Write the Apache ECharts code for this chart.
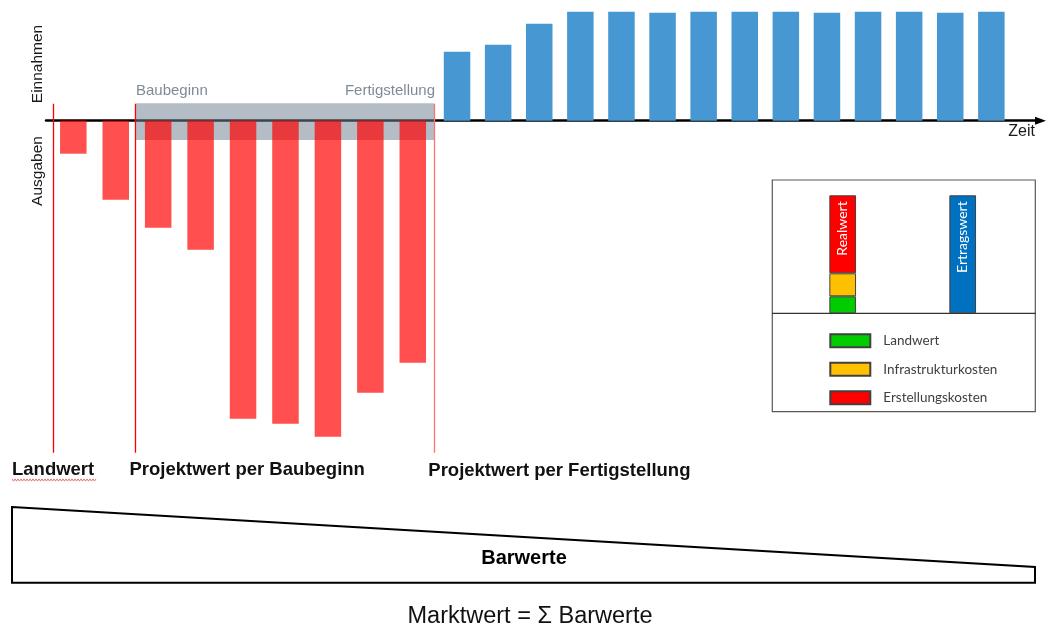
<!DOCTYPE html>
<html><head><meta charset="utf-8">
<script src="https://cdn.jsdelivr.net/npm/echarts@6/dist/echarts.min.js"></script>
<style>html,body{margin:0;padding:0;background:#fff}#c{width:1051px;height:632px}</style>
</head><body><div id="c"></div>
<script>
// ---- Data ----
const ausgabenPerioden = [0, 1, 2, 3, 4, 5, 6, 7, 8];
const ausgaben = [-33, -79, -107, -129, -298, -303, -316, -272, -242];
const einnahmenPerioden = [9, 10, 11, 12, 13, 14, 15, 16, 17, 18, 19, 20, 21, 22];
const einnahmen = [69, 76, 97, 109, 109, 108, 109, 109, 109, 108, 109, 109, 108, 109];
const stichtage = [-0.47, 1.46, 8.5];         // Landwert, Baubeginn, Fertigstellung
const bauphase = [1.48, 8.5];                 // Baubeginn .. Fertigstellung
const stichtagLabels = ['Landwert', 'Projektwert per Baubeginn', 'Projektwert per Fertigstellung'];
const insetKategorien = ['Realwert', 'Ertragswert'];
const landwert = [17, '-'];
const infrastrukturkosten = [23, '-'];
const erstellungskosten = [78, '-'];
const ertragswert = ['-', 118];
const legendNamen = ['Landwert', 'Infrastrukturkosten', 'Erstellungskosten'];

const FONT = '"Liberation Sans", Arial, sans-serif';
const chart = echarts.init(document.getElementById('c'), null, {renderer: 'canvas'});

const hidden = {show: false};
function hAxis(idx, min, max) {
  return {type: 'value', gridIndex: idx, min: min, max: max, axisLine: hidden, axisTick: hidden, axisLabel: hidden, splitLine: hidden};
}

// squiggle (spell-check underline) decoration
const squiggle = [];
for (let k = 0; k <= 56; k++) squiggle.push([12 + k * 1.5, 480 + (k % 2 ? 1.1 : -1.1)]);

const lineColors = ['#ff0000', '#ff0000', '#ff7070'];
const markLineData = stichtage.map((s, i) => [
  {coord: [s, 17], lineStyle: {color: lineColors[i], width: 1.3, type: 'solid'}},
  {coord: [s, -332]}
]);

const option = {
  animation: false,
  backgroundColor: '#ffffff',
  grid: [
    {left: 46, top: 20, width: 994.5, height: 100.7},
    {left: 52.1, top: 80.7, width: 381.9, height: 380},
    {left: 436.5, top: 0.7, width: 575.4, height: 120},
    {left: 782.7, top: 183.3, width: 240, height: 130}
  ],
  xAxis: [
    {type: 'value', gridIndex: 0, min: 0, max: 1, axisTick: hidden, axisLabel: hidden, splitLine: hidden,
     axisLine: {show: true, symbol: ['none', 'triangle'], symbolSize: [8, 11], lineStyle: {color: '#000', width: 2.5}}},
    hAxis(1, -0.5, 8.5),
    hAxis(2, 8.5, 22.5),
    {type: 'category', gridIndex: 3, data: insetKategorien, axisLine: hidden, axisTick: hidden, axisLabel: hidden, splitLine: hidden}
  ],
  yAxis: [
    hAxis(0, 0, 1),
    hAxis(1, -340, 40),
    hAxis(2, 0, 120),
    hAxis(3, 0, 130)
  ],
  legend: {
    data: legendNamen, orient: 'vertical', left: 829.3, top: 333.3, padding: 0, itemWidth: 40, itemHeight: 13,
    itemGap: 13.5, icon: 'rect', selectedMode: false,
    textStyle: {fontFamily: 'Lato, "Open Sans", sans-serif', fontSize: 13.5, color: '#404040', padding: [4, 0, 0, 8]}
  },
  series: [
    {
      name: 'Stichtage', type: 'line', xAxisIndex: 1, yAxisIndex: 1, data: [], silent: true, z: 6,
      markLine: {silent: true, symbol: ['none', 'none'], label: hidden,
        data: markLineData}
    },
    {
      name: 'Ausgaben', type: 'bar', xAxisIndex: 1, yAxisIndex: 1, barWidth: 26.5,
      data: ausgabenPerioden.map((p, i) => [p, ausgaben[i]]),
      itemStyle: {color: 'rgba(255,0,0,0.69)'},
      markArea: {silent: true, itemStyle: {color: 'rgba(113,128,146,0.53)'},
        data: [[{coord: [bauphase[0], 17.4]}, {coord: [bauphase[1], -19.3]}]]}
    },
    {
      name: 'Einnahmen', type: 'bar', xAxisIndex: 2, yAxisIndex: 2, barWidth: 26.5,
      data: einnahmenPerioden.map((p, i) => [p, einnahmen[i]]),
      itemStyle: {color: '#4697d2'}
    },
    {name: 'Landwert', type: 'bar', xAxisIndex: 3, yAxisIndex: 3, stack: 'rw', barWidth: 26.7, data: landwert,
     itemStyle: {color: '#00cc00', borderColor: '#404040', borderWidth: 1}},
    {name: 'Infrastrukturkosten', type: 'bar', xAxisIndex: 3, yAxisIndex: 3, stack: 'rw', barWidth: 26.7, data: infrastrukturkosten,
     itemStyle: {color: '#ffc000', borderColor: '#404040', borderWidth: 1}},
    {name: 'Erstellungskosten', type: 'bar', xAxisIndex: 3, yAxisIndex: 3, stack: 'rw', barWidth: 26.7, data: erstellungskosten,
     itemStyle: {color: '#ff0000', borderColor: '#404040', borderWidth: 1},
     label: {show: true, formatter: '{b}', position: 'insideTop', rotate: 90, align: 'right', verticalAlign: 'middle', distance: 6,
       color: '#fff', fontFamily: 'Lato, "Open Sans", sans-serif', fontSize: 14}},
    {name: 'Ertragswert', type: 'bar', xAxisIndex: 3, yAxisIndex: 3, stack: 'rw', barWidth: 26.7, data: ertragswert,
     itemStyle: {color: '#0070c0', borderColor: '#404040', borderWidth: 1},
     label: {show: true, formatter: '{b}', position: 'insideTop', rotate: 90, align: 'right', verticalAlign: 'middle', distance: 6,
       color: '#fff', fontFamily: 'Lato, "Open Sans", sans-serif', fontSize: 14}}
  ],
  graphic: [
    {type: 'rect', shape: {x: 772.3, y: 180, width: 263, height: 231.7}, style: {fill: 'none', stroke: '#595959', lineWidth: 1.2}, z: 1},
    {type: 'line', shape: {x1: 772.3, y1: 313.3, x2: 1035.3, y2: 313.3}, style: {stroke: '#000', lineWidth: 1}, z: 1},
    {type: 'polygon', shape: {points: [[12, 507], [1035, 567], [1035, 582.7], [12, 582.7]]}, style: {fill: '#fff', stroke: '#000', lineWidth: 2}},
    {type: 'polyline', shape: {points: squiggle}, style: {stroke: '#e05050', lineWidth: 0.8, fill: null}},
    {type: 'text', x: 38, y: 64, rotation: Math.PI / 2, style: {text: 'Einnahmen', fontFamily: FONT, fontSize: 15.5, fill: '#1a1a1a', align: 'center', verticalAlign: 'middle'}},
    {type: 'text', x: 38, y: 171, rotation: Math.PI / 2, style: {text: 'Ausgaben', fontFamily: FONT, fontSize: 15.5, fill: '#1a1a1a', align: 'center', verticalAlign: 'middle'}},
    {type: 'text', x: 136, y: 91, style: {text: 'Baubeginn', fontFamily: FONT, fontSize: 15, fill: '#7f8a99', align: 'left', verticalAlign: 'middle'}},
    {type: 'text', x: 435, y: 91, style: {text: 'Fertigstellung', fontFamily: FONT, fontSize: 15, fill: '#7f8a99', align: 'right', verticalAlign: 'middle'}},
    {type: 'text', x: 1035, y: 132, style: {text: 'Zeit', fontFamily: FONT, fontSize: 16, fill: '#1a1a1a', align: 'right', verticalAlign: 'middle'}},
    {type: 'text', x: 12, y: 470, style: {text: stichtagLabels[0], fontFamily: FONT, fontWeight: 'bold', fontSize: 18.5, fill: '#111', align: 'left', verticalAlign: 'middle'}},
    {type: 'text', x: 129.5, y: 470, style: {text: stichtagLabels[1], fontFamily: FONT, fontWeight: 'bold', fontSize: 18.5, fill: '#111', align: 'left', verticalAlign: 'middle'}},
    {type: 'text', x: 428.3, y: 471, style: {text: stichtagLabels[2], fontFamily: FONT, fontWeight: 'bold', fontSize: 18.5, fill: '#111', align: 'left', verticalAlign: 'middle'}},
    {type: 'text', x: 524, y: 558, style: {text: 'Barwerte', fontFamily: FONT, fontWeight: 'bold', fontSize: 20, fill: '#000', align: 'center', verticalAlign: 'middle'}},
    {type: 'text', x: 530, y: 617, style: {text: 'Marktwert = Σ Barwerte', fontFamily: FONT, fontSize: 23.5, fill: '#111', align: 'center', verticalAlign: 'middle'}}
  ]
};
chart.setOption(option);
</script></body></html>
